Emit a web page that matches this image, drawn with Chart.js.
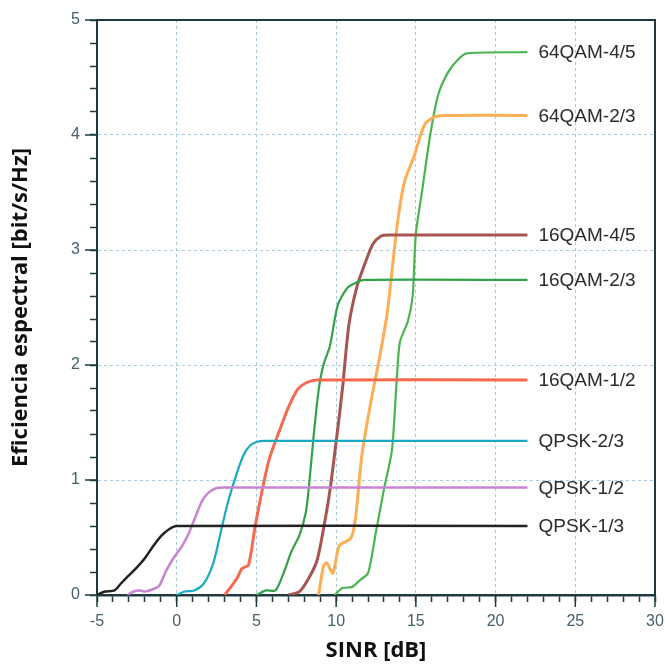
<!DOCTYPE html>
<html>
<head>
<meta charset="utf-8">
<script src="https://cdn.jsdelivr.net/npm/chart.js@4.4.1/dist/chart.umd.min.js"></script>
<style>
    html, body { margin: 0; padding: 0; background: #fff; }
    #wrap { width: 665px; height: 664px; }
</style>
</head>
<body>
<div id="wrap"><canvas id="chart"></canvas></div>
<script>
// puntos [SINR dB, eficiencia bit/s/Hz]
var qpsk13 = [[-5, 0], [-4.5, 0.03], [-3.9, 0.04], [-3.5, 0.1], [-3, 0.17], [-2.5, 0.24], [-2, 0.32], [-1.5, 0.42], [-1, 0.51], [-0.5, 0.57], [0, 0.6], [22, 0.6]];
var qpsk12 = [[-3.1, 0], [-2.7, 0.03], [-2.3, 0.04], [-2, 0.03], [-1.5, 0.05], [-1.1, 0.08], [-0.7, 0.2], [-0.3, 0.3], [0, 0.36], [0.4, 0.44], [0.8, 0.55], [1.2, 0.69], [1.6, 0.82], [2, 0.89], [2.5, 0.93], [3, 0.935], [22, 0.935]];
var qpsk23 = [[0, 0], [0.5, 0.03], [1.1, 0.04], [1.7, 0.1], [2.3, 0.28], [2.8, 0.57], [3.2, 0.8], [3.7, 1.03], [4.2, 1.22], [4.6, 1.3], [5, 1.33], [5.5, 1.34], [22, 1.34]];
var qam16_12 = [[3, 0], [3.4, 0.07], [3.8, 0.15], [4.1, 0.23], [4.5, 0.26], [4.9, 0.58], [5.3, 0.87], [5.8, 1.18], [6.5, 1.45], [7, 1.63], [7.6, 1.79], [8.2, 1.85], [8.8, 1.87], [22, 1.87]];
var qam16_23 = [[5, 0], [5.6, 0.04], [6.2, 0.04], [6.7, 0.19], [7.2, 0.38], [7.7, 0.52], [8.1, 0.72], [8.3, 0.95], [8.6, 1.4], [8.9, 1.78], [9.2, 2.0], [9.6, 2.16], [10.1, 2.52], [10.7, 2.67], [11.3, 2.72], [11.8, 2.74], [22, 2.74]];
var qam16_45 = [[7, 0], [7.7, 0.03], [8.3, 0.15], [8.8, 0.3], [9.2, 0.57], [9.6, 0.9], [10, 1.33], [10.4, 1.8], [10.8, 2.35], [11.3, 2.68], [11.8, 2.88], [12.3, 3.05], [12.8, 3.12], [13.3, 3.13], [22, 3.13]];
var qam64_23 = [[8.9, 0], [9.2, 0.25], [9.4, 0.28], [9.8, 0.19], [10.2, 0.43], [10.9, 0.49], [11.2, 0.65], [11.6, 1.2], [12.1, 1.62], [12.7, 2.05], [13.2, 2.45], [13.6, 2.94], [13.9, 3.29], [14.3, 3.6], [14.9, 3.82], [15.3, 4.0], [15.6, 4.1], [16.2, 4.16], [17, 4.17], [22, 4.17]];
var qam64_45 = [[9.9, 0], [10.4, 0.06], [11, 0.07], [11.5, 0.13], [12, 0.19], [12.5, 0.55], [13, 0.92], [13.5, 1.26], [13.8, 1.87], [14, 2.2], [14.5, 2.38], [14.8, 2.6], [15, 3.14], [15.4, 3.52], [15.9, 4.0], [16.4, 4.35], [17, 4.54], [17.6, 4.65], [18.2, 4.71], [22, 4.72]];

var seriesNames = ['QPSK-1/3', 'QPSK-1/2', 'QPSK-2/3', '16QAM-1/2', '16QAM-2/3', '16QAM-4/5', '64QAM-2/3', '64QAM-4/5'];

var xMin = -5, xMax = 30, yMin = 0, yMax = 5;

function pts(arr) {
    return arr.map(function (p) { return { x: p[0], y: p[1] }; });
}

function isMult(v, m) {
    var q = v / m;
    return Math.abs(q - Math.round(q)) < 1e-6;
}

var axisColor = '#1e3a40';
var tickFont = { family: 'Liberation Sans', size: 16 };

// texto al final de cada curva, marcas mayores y marco
var extras = {
    id: 'extras',
    afterDraw: function (chart) {
        var ctx = chart.ctx;
        var a = chart.chartArea;
        var sx = chart.scales.x, sy = chart.scales.y;
        ctx.save();
        ctx.strokeStyle = axisColor;
        ctx.lineWidth = 2;
        ctx.beginPath();
        ctx.moveTo(a.left, a.top);
        ctx.lineTo(a.right, a.top);
        ctx.lineTo(a.right, a.bottom);
        ctx.stroke();

        ctx.lineWidth = 1.5;
        for (var v = xMin; v <= xMax; v += 5) {
            var px = sx.getPixelForValue(v);
            ctx.beginPath();
            ctx.moveTo(px, a.bottom);
            ctx.lineTo(px, a.bottom + 12);
            ctx.stroke();
        }
        for (var w = yMin; w <= yMax; w += 1) {
            var py = sy.getPixelForValue(w);
            ctx.beginPath();
            ctx.moveTo(a.left - 12, py);
            ctx.lineTo(a.left, py);
            ctx.stroke();
        }

        ctx.font = '19px "Liberation Sans"';
        ctx.fillStyle = '#2b2b2b';
        ctx.textAlign = 'left';
        ctx.textBaseline = 'middle';
        chart.data.datasets.forEach(function (ds, i) {
            var meta = chart.getDatasetMeta(i);
            var last = meta.data[meta.data.length - 1];
            ctx.fillText(ds.label, last.x + 11, last.y + 1);
        });
        ctx.restore();
    }
};

var chart = new Chart(
    document.getElementById('chart'),
    {
        type: 'line',
        data: {
            datasets: [{
                label: seriesNames[0],
                data: pts(qpsk13),
                borderColor: '#222222',
                borderWidth: 2.5
            },
            {
                label: seriesNames[1],
                data: pts(qpsk12),
                borderColor: '#c883d3',
                borderWidth: 2.5
            },
            {
                label: seriesNames[2],
                data: pts(qpsk23),
                borderColor: '#1aa9c1',
                borderWidth: 2.2
            },
            {
                label: seriesNames[3],
                data: pts(qam16_12),
                borderColor: '#f5694f',
                borderWidth: 3
            },
            {
                label: seriesNames[4],
                data: pts(qam16_23),
                borderColor: '#33a04a',
                borderWidth: 2.2
            },
            {
                label: seriesNames[5],
                data: pts(qam16_45),
                borderColor: '#a65550',
                borderWidth: 3
            },
            {
                label: seriesNames[6],
                data: pts(qam64_23),
                borderColor: '#fbae55',
                borderWidth: 3
            },
            {
                label: seriesNames[7],
                data: pts(qam64_45),
                borderColor: '#4ab54f',
                borderWidth: 2.2
            }]
        },
        options: {
            responsive: true,
            maintainAspectRatio: false,
            animation: false,
            layout: { padding: { top: 20, right: 10, left: 0, bottom: 0 } },
            elements: {
                point: { radius: 0 },
                line: { tension: 0.25, fill: false }
            },
            plugins: {
                legend: { display: false },
                tooltip: { enabled: false }
            },
            scales: {
                x: {
                    type: 'linear',
                    min: xMin,
                    max: xMax,
                    afterFit: function (s) {
                        s.height = 69;
                        s.paddingLeft = 0;
                        s.paddingRight = 0;
                    },
                    ticks: {
                        stepSize: 1,
                        autoSkip: false,
                        maxRotation: 0,
                        minRotation: 0,
                        padding: 10,
                        color: '#44606c',
                        font: tickFont,
                        callback: function (v) { return isMult(v, 5) ? v : ''; }
                    },
                    grid: {
                        color: function (c) {
                            var v = c.tick ? c.tick.value : 0;
                            return (isMult(v, 5) && v > xMin && v < xMax) ? '#a8c8dc' : 'rgba(0,0,0,0)';
                        },
                        lineWidth: 1,
                        tickColor: axisColor,
                        tickLength: 7,
                        tickWidth: 1.5
                    },
                    border: { color: axisColor, width: 2.5, dash: [3, 3] },
                    title: {
                        display: true,
                        text: 'SINR [dB]',
                        color: '#111111',
                        font: { family: 'Open Sans', size: 22, weight: 'bold' },
                        padding: { top: 0, bottom: 0 }
                    }
                },
                y: {
                    min: yMin,
                    max: yMax,
                    afterFit: function (s) {
                        s.width = 97;
                        s.paddingTop = 0;
                        s.paddingBottom = 0;
                    },
                    ticks: {
                        stepSize: 0.2,
                        autoSkip: false,
                        padding: 10,
                        color: '#44606c',
                        font: tickFont,
                        callback: function (v) { return isMult(v, 1) ? Math.round(v) : ''; }
                    },
                    grid: {
                        color: function (c) {
                            var v = c.tick ? c.tick.value : 0;
                            return (isMult(v, 1) && v > yMin && v < yMax) ? '#a8c8dc' : 'rgba(0,0,0,0)';
                        },
                        lineWidth: 1,
                        tickColor: axisColor,
                        tickLength: 7,
                        tickWidth: 1.5
                    },
                    border: { color: axisColor, width: 2, dash: [3, 3] },
                    title: {
                        display: true,
                        text: 'Eficiencia espectral [bit/s/Hz]',
                        color: '#111111',
                        font: { family: 'Open Sans', size: 22, weight: 'bold' },
                        padding: { top: 8, bottom: 0 }
                    }
                }
            }
        },
        plugins: [extras]
    });
</script>
</body>
</html>
